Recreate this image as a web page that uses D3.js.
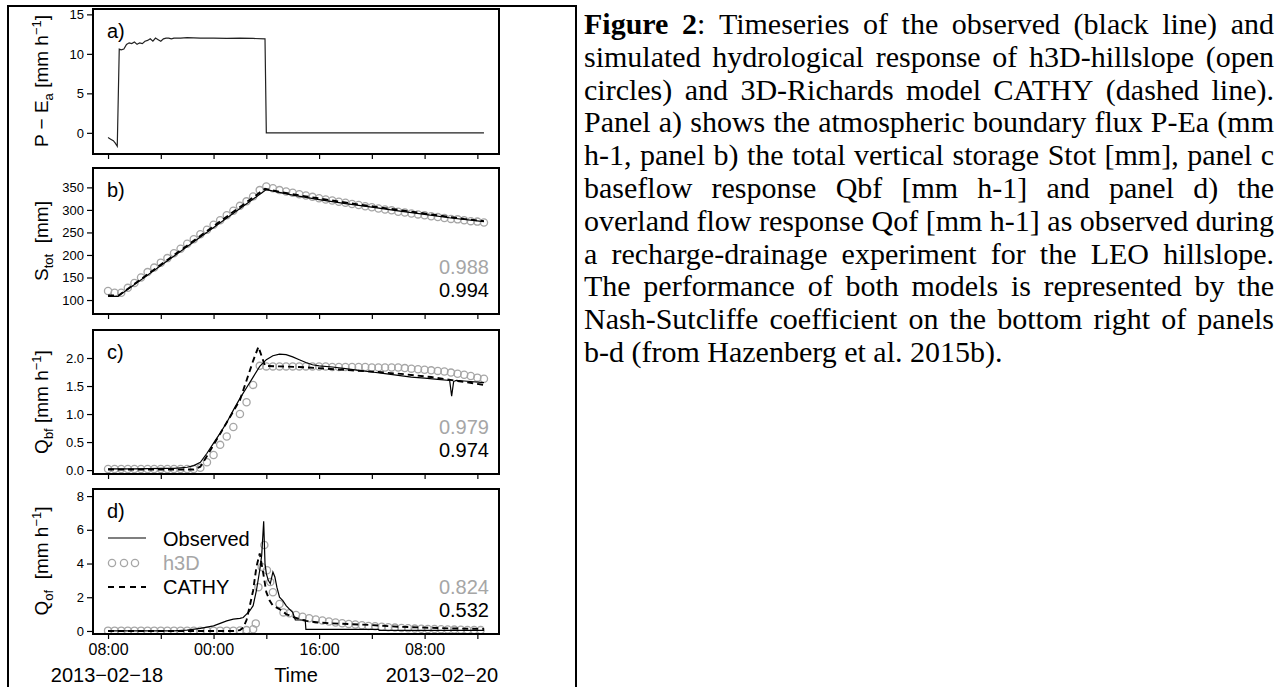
<!DOCTYPE html>
<html>
<head>
<meta charset="utf-8">
<script src="https://cdn.jsdelivr.net/npm/d3@7"></script>
<style>
  body { margin: 0; background: #fff; }
  svg { display: block; }
</style>
</head>
<body>
<svg width="1285" height="687"></svg>
<script>
// ---- data (hours after 2013-02-18 08:00) ----
const aHours = [0, 0.4, 0.8, 1.1, 1.4, 1.7, 2.0, 2.4, 2.8, 3.2, 3.6, 4.0, 4.4, 4.8, 5.2, 5.6, 6.0, 6.4, 6.8, 7.2, 7.6, 8.0, 8.4, 8.8, 9.2, 9.6, 10, 11, 12, 14, 16, 18, 20, 22, 23.8, 24.0, 57];
const aObs = [-0.6, -0.8, -1.0, -1.3, -1.7, 10.6, 10.5, 10.6, 11.2, 11.4, 11.3, 11.5, 11.2, 11.4, 11.3, 11.6, 11.7, 11.9, 11.6, 12.0, 11.8, 11.6, 11.9, 12.0, 12.0, 11.9, 12.0, 12.0, 12.05, 12.0, 12.0, 11.95, 12.0, 11.95, 11.9, 0, 0];

const bObsHours = [0, 1.5, 24, 26, 28, 32, 36, 40, 44, 48, 52, 57];
const bObs = [108, 108, 345, 339, 333, 323, 314, 306, 298, 290, 282, 274];
const bCathyHours = [0, 1.6, 23.8, 26, 30, 34, 38, 42, 46, 50, 54, 57];
const bCathy = [110, 110, 347, 340, 330, 321, 312, 304, 296, 288, 280, 275];
const h3dHours = [0, 1, 2, 3, 4, 5, 6, 7, 8, 9, 10, 11, 12, 13, 14, 15, 16, 17, 18, 19, 20, 21, 22, 23, 24, 25, 26, 27, 28, 29, 30, 31, 32, 33, 34, 35, 36, 37, 38, 39, 40, 41, 42, 43, 44, 45, 46, 47, 48, 49, 50, 51, 52, 53, 54, 55, 56, 57];
const bH3d = [120, 116, 116, 127, 138, 150, 162, 172, 183, 193, 204, 214, 225, 235, 246, 256, 267, 277, 288, 298, 309, 319, 330, 344, 352, 348, 344, 341, 338, 335, 332, 329, 326, 323, 321, 318, 316, 313, 311, 308, 306, 303, 301, 299, 296, 294, 292, 290, 288, 286, 284, 282, 280, 279, 277, 275, 274, 272];

const cObsHours = [0, 4, 8, 10, 12, 13, 14, 15, 16, 17, 18, 19, 20, 21, 22, 23, 24, 25, 26, 27, 28, 29, 30, 31, 32, 34, 36, 38, 40, 42, 44, 46, 48, 50, 51.8, 52.1, 52.4, 52.8, 54, 57];
const cObs = [0.02, 0.02, 0.03, 0.03, 0.05, 0.08, 0.14, 0.3, 0.48, 0.66, 0.85, 1.07, 1.28, 1.47, 1.66, 1.85, 1.97, 2.04, 2.07, 2.06, 2.02, 1.97, 1.92, 1.88, 1.86, 1.84, 1.81, 1.78, 1.75, 1.72, 1.69, 1.66, 1.64, 1.62, 1.6, 1.32, 1.58, 1.6, 1.59, 1.56];
const cCathyHours = [0, 13, 14, 15, 16, 17, 18, 19, 20, 21, 22, 22.8, 23.8, 26, 29, 33, 37, 41, 45, 49, 53, 57];
const cCathy = [0.01, 0.01, 0.06, 0.25, 0.45, 0.65, 0.85, 1.05, 1.25, 1.6, 1.95, 2.2, 1.86, 1.85, 1.84, 1.81, 1.78, 1.75, 1.71, 1.66, 1.59, 1.52];
const cH3d = [0.02, 0.02, 0.02, 0.02, 0.02, 0.02, 0.02, 0.02, 0.02, 0.02, 0.02, 0.02, 0.02, 0.02, 0.04, 0.14, 0.27, 0.45, 0.6, 0.77, 1.0, 1.21, 1.52, 1.86, 1.85, 1.85, 1.85, 1.85, 1.85, 1.85, 1.85, 1.85, 1.85, 1.85, 1.84, 1.84, 1.84, 1.84, 1.84, 1.84, 1.83, 1.83, 1.83, 1.83, 1.83, 1.82, 1.81, 1.8, 1.79, 1.78, 1.77, 1.76, 1.74, 1.72, 1.7, 1.68, 1.65, 1.63];

const dObsHours = [0, 10, 12, 14, 16, 17, 18, 19, 20, 20.5, 21, 21.5, 22, 22.5, 23, 23.3, 23.6, 23.8, 24.0, 24.3, 24.6, 25.0, 25.3, 25.6, 26, 26.5, 27, 27.5, 28, 28.4, 29.9, 30.0, 41, 41.1, 57];
const dObs = [0.0, 0.0, 0.05, 0.15, 0.3, 0.45, 0.6, 0.7, 0.75, 0.8, 1.0, 1.2, 1.5, 2.4, 3.6, 4.5, 6.5, 4.0, 3.4, 3.0, 2.8, 3.5, 3.2, 2.6, 2.0, 1.8, 1.5, 1.3, 1.1, 0.65, 0.65, 0.1, 0.1, 0.03, 0.03];
const dCathyHours = [0, 19, 20, 20.5, 21, 21.5, 22, 22.5, 23, 23.5, 24, 24.5, 25, 26, 27, 28, 29, 30, 32, 34, 37, 40, 44, 48, 52, 57];
const dCathy = [0.0, 0.0, 0.05, 0.2, 0.65, 1.5, 2.4, 3.8, 4.6, 3.5, 2.3, 1.8, 1.5, 1.3, 1.0, 0.85, 0.7, 0.6, 0.5, 0.45, 0.4, 0.35, 0.25, 0.2, 0.15, 0.12];
const dH3dHours = [0, 1, 2, 3, 4, 5, 6, 7, 8, 9, 10, 11, 12, 13, 14, 15, 16, 17, 18, 19, 20, 21, 22, 22.4, 22.8, 23.3, 23.7, 24.1, 24.6, 25, 26, 26.6, 27.5, 28.5, 29.5, 30.5, 31.5, 32.5, 33.5, 34.5, 35.5, 36.5, 37.5, 38.5, 39.5, 40.5, 41.5, 42.5, 43.5, 44.5, 45.5, 46.5, 47.5, 48.5, 49.5, 50.5, 51.5, 52.5, 53.5, 54.5, 55.5, 56.5];
const dH3d = [0.02, 0.02, 0.02, 0.02, 0.02, 0.02, 0.02, 0.02, 0.02, 0.02, 0.02, 0.02, 0.02, 0.02, 0.02, 0.02, 0.02, 0.02, 0.02, 0.02, 0.03, 0.05, 0.1, 0.45, 2.6, 3.8, 5.1, 3.6, 2.9, 2.3, 1.6, 1.1, 1.05, 0.95, 0.85, 0.75, 0.68, 0.62, 0.56, 0.5, 0.46, 0.42, 0.38, 0.34, 0.3, 0.28, 0.25, 0.22, 0.2, 0.18, 0.16, 0.14, 0.13, 0.12, 0.11, 0.1, 0.09, 0.08, 0.07, 0.06, 0.06, 0.05];

const nseH3d = ["0.988", "0.979", "0.824"];
const nseCathy = ["0.994", "0.974", "0.532"];

const captionLines = [
  "Figure 2: Timeseries of the observed (black line) and",
  "simulated hydrological response of h3D-hillslope (open",
  "circles) and 3D-Richards model CATHY (dashed line).",
  "Panel a) shows the atmospheric boundary flux P-Ea (mm",
  "h-1, panel b) the total vertical storage Stot [mm], panel c",
  "baseflow response Qbf [mm h-1] and panel d) the",
  "overland flow response Qof [mm h-1] as observed during",
  "a recharge-drainage experiment for the LEO hillslope.",
  "The performance of both models is represented by the",
  "Nash-Sutcliffe coefficient on the bottom right of panels",
  "b-d (from Hazenberg et al. 2015b)."
];

// ---- layout ----
const sans = "'Liberation Sans', Arial, sans-serif";
const serif = "'Liberation Serif', 'Times New Roman', serif";
const grey = "#a6a6a6";
const t0 = Date.UTC(2013, 1, 18, 8);
const toDate = h => new Date(t0 + h * 36e5);
const pair = (hs, vs) => hs.map((h, i) => [toDate(h), vs[i]]);

const svg = d3.select("svg");
svg.append("rect").attr("width", 1285).attr("height", 687).attr("fill", "#fff");

// outer frame of the table cell
svg.append("path")
  .attr("d", "M8,687V6H576V687")
  .attr("fill", "none").attr("stroke", "#000").attr("stroke-width", 2);

const left = 93, right = 499;
const x = d3.scaleUtc()
  .domain([toDate(-2.28), toDate(59.28)])
  .range([left, right]);

const panels = [
  { id: "a", top: 9, bottom: 154, dom: [-2.68, 15.68], ticks: [0, 5, 10, 15], fmt: d3.format("d") },
  { id: "b", top: 168, bottom: 314, dom: [69, 393], ticks: [100, 150, 200, 250, 300, 350], fmt: d3.format("d") },
  { id: "c", top: 330, bottom: 474, dom: [-0.07, 2.5], ticks: [0, 0.5, 1, 1.5, 2], fmt: d3.format(".1f") },
  { id: "d", top: 489, bottom: 634, dom: [-0.18, 8.42], ticks: [0, 2, 4, 6, 8], fmt: d3.format("d") }
];

const series = {
  a: { obs: pair(aHours, aObs) },
  b: { obs: pair(bObsHours, bObs), cathy: pair(bCathyHours, bCathy), h3d: pair(h3dHours, bH3d) },
  c: { obs: pair(cObsHours, cObs), cathy: pair(cCathyHours, cCathy), h3d: pair(h3dHours, cH3d) },
  d: { obs: pair(dObsHours, dObs), cathy: pair(dCathyHours, dCathy), h3d: pair(dH3dHours, dH3d) }
};

const hourTicks = x.ticks(d3.utcHour.every(8));
const fmtHour = d3.utcFormat("%H:%M");

panels.forEach((p, pi) => {
  const y = d3.scaleLinear().domain(p.dom).range([p.bottom, p.top]);
  const g = svg.append("g");
  const s = series[p.id];

  // y axis
  const ya = g.append("g").attr("transform", `translate(${left - 1},0)`)
    .call(d3.axisLeft(y).tickValues(p.ticks).tickFormat(p.fmt).tickSize(5).tickPadding(3));
  ya.select(".domain").remove();
  ya.selectAll("line").attr("stroke-width", 1.2);
  ya.selectAll("text").attr("font-family", sans).attr("font-size", 13).attr("fill", "#000");

  // x axis
  const xa = g.append("g").attr("transform", `translate(0,${p.bottom + 1})`)
    .call(d3.axisBottom(x).tickValues(hourTicks).tickSize(4)
      .tickFormat((d, i) => (p.id === "d" && i % 2 === 0) ? fmtHour(d) : ""));
  xa.select(".domain").remove();
  xa.selectAll("line").attr("stroke-width", 1.2);
  xa.selectAll("text").attr("font-family", sans).attr("font-size", 16).attr("fill", "#000")
    .attr("y", 20).attr("dy", null);

  const line = d3.line().x(d => x(d[0])).y(d => y(d[1]));

  if (s.h3d) {
    g.append("g").selectAll("circle").data(s.h3d).join("circle")
      .attr("cx", d => x(d[0])).attr("cy", d => y(d[1])).attr("r", 3.6)
      .attr("fill", "none").attr("stroke", grey).attr("stroke-width", 1.3);
  }
  g.append("path").datum(s.obs).attr("d", line)
    .attr("fill", "none").attr("stroke", p.id === "a" ? "#222" : "#000").attr("stroke-width", 1.2);
  if (s.cathy) {
    g.append("path").datum(s.cathy).attr("d", line)
      .attr("fill", "none").attr("stroke", "#000").attr("stroke-width", 1.9)
      .attr("stroke-dasharray", "6,4");
  }

  // box
  g.append("rect").attr("x", left).attr("y", p.top)
    .attr("width", right - left).attr("height", p.bottom - p.top)
    .attr("fill", "none").attr("stroke", "#000").attr("stroke-width", 2);

  g.append("text").attr("x", 107).attr("y", p.top + 29)
    .attr("font-family", sans).attr("font-size", 20).text(p.id + ")");

  if (pi > 0) {
    g.append("text").attr("x", 489).attr("y", p.bottom - 40).attr("text-anchor", "end")
      .attr("font-family", sans).attr("font-size", 20).attr("fill", grey).text(nseH3d[pi - 1]);
    g.append("text").attr("x", 489).attr("y", p.bottom - 17).attr("text-anchor", "end")
      .attr("font-family", sans).attr("font-size", 20).attr("fill", "#000").text(nseCathy[pi - 1]);
  }
});

// y-axis titles, rotated
function yTitle(cy, parts) {
  const t = svg.append("text")
    .attr("transform", `translate(48,${cy}) rotate(-90)`)
    .attr("text-anchor", "middle").attr("font-family", sans).attr("font-size", 19);
  let shift = 0;
  parts.forEach(pt => {
    const target = pt.sub ? 5 : pt.sup ? -7 : 0;
    const ts = t.append("tspan").attr("dy", target - shift).text(pt.t);
    if (pt.sub || pt.sup) ts.attr("font-size", 13);
    shift = target;
  });
}
yTitle(81, [{ t: "P \u2212 E" }, { t: "a", sub: true }, { t: " [mm h" }, { t: "\u22121", sup: true }, { t: "]" }]);
yTitle(241, [{ t: "S" }, { t: "tot", sub: true }, { t: "\u00a0 [mm]" }]);
yTitle(402, [{ t: "Q" }, { t: "bf", sub: true }, { t: " [mm h" }, { t: "\u22121", sup: true }, { t: "]" }]);
yTitle(561, [{ t: "Q" }, { t: "of", sub: true }, { t: "\u00a0 [mm h" }, { t: "\u22121", sup: true }, { t: "]" }]);

// bottom labels
const bl = svg.append("g").attr("font-family", sans).attr("font-size", 20);
bl.append("text").attr("x", x(toDate(0)) - 1).attr("y", 682).attr("text-anchor", "middle").text("2013\u221202\u221218");
bl.append("text").attr("x", (left + right) / 2).attr("y", 682).attr("text-anchor", "middle").text("Time");
bl.append("text").attr("x", 498).attr("y", 682).attr("text-anchor", "end").text("2013\u221202\u221220");

// legend in panel d
const lg = svg.append("g").attr("font-family", sans).attr("font-size", 20);
lg.append("line").attr("x1", 108).attr("x2", 146).attr("y1", 538).attr("y2", 538)
  .attr("stroke", "#000").attr("stroke-width", 1.2);
lg.append("text").attr("x", 163).attr("y", 546).text("Observed");
lg.selectAll("circle").data([112, 124, 135]).join("circle")
  .attr("cx", d => d).attr("cy", 563).attr("r", 3.6)
  .attr("fill", "none").attr("stroke", grey).attr("stroke-width", 1.3);
lg.append("text").attr("x", 163).attr("y", 570).attr("fill", grey).text("h3D");
lg.append("line").attr("x1", 108).attr("x2", 146).attr("y1", 587).attr("y2", 587)
  .attr("stroke", "#000").attr("stroke-width", 1.9).attr("stroke-dasharray", "6,5");
lg.append("text").attr("x", 163).attr("y", 594).text("CATHY");

// caption, justified word by word
const capLeft = 584, capRight = 1274, capTop = 34, capPitch = 32.8;
const cap = svg.append("g").attr("font-family", serif).attr("font-size", 30).attr("fill", "#000");
captionLines.forEach((ln, li) => {
  const words = ln.split(" ");
  const nodes = words.map((w, wi) => {
    const t = cap.append("text").attr("y", capTop + li * capPitch);
    if (li === 0 && wi === 0) t.append("tspan").attr("font-weight", "bold").text(w);
    else if (li === 0 && wi === 1) {
      t.append("tspan").attr("font-weight", "bold").text(w.slice(0, -1));
      t.append("tspan").text(w.slice(-1));
    } else t.text(w);
    return t;
  });
  const widths = nodes.map(n => n.node().getComputedTextLength());
  const total = d3.sum(widths);
  const last = li === captionLines.length - 1;
  const gap = last ? 7.5 : (capRight - capLeft - total) / (words.length - 1);
  let cx = capLeft;
  nodes.forEach((n, i) => { n.attr("x", cx); cx += widths[i] + gap; });
});
</script>
</body>
</html>
